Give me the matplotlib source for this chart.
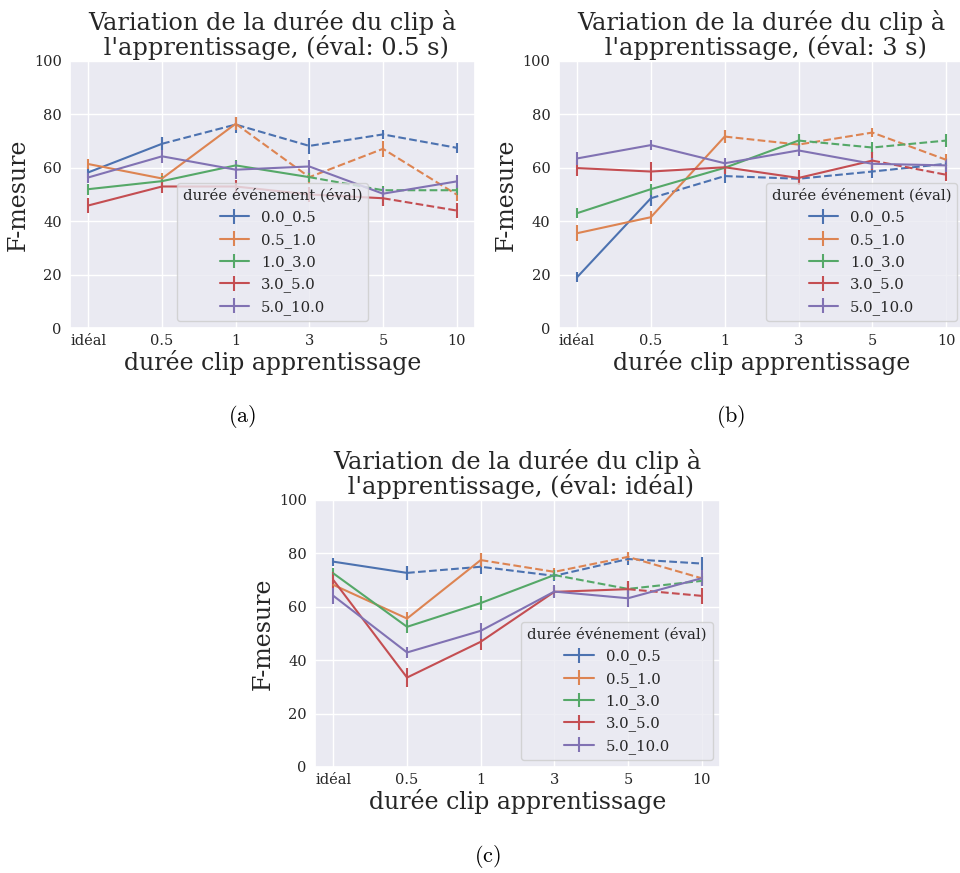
import matplotlib
matplotlib.use("Agg")
import matplotlib.pyplot as plt
import seaborn as sns
import numpy as np

sns.set_theme(style="darkgrid")
plt.rcParams['font.family'] = ['DejaVu Serif']
plt.rcParams['mathtext.fontset'] = 'cm'

clip_labels = ['idéal', '0.5', '1', '3', '5', '10']
event_labels = ['0.0_0.5', '0.5_1.0', '1.0_3.0', '3.0_5.0', '5.0_10.0']
# index of last "solid" point for each event class (clip duration <= event upper bound)
solid_end = [1, 2, 3, 4, 5]

# (a) eval 0.5 s
a_vals = [
    [58.3, 69.0, 76.2, 68.2, 72.5, 67.5],
    [61.4, 56.0, 76.5, 56.5, 67.1, 50.0],
    [52.0, 55.0, 60.9, 56.5, 51.6, 51.6],
    [45.9, 53.0, 53.0, 50.0, 48.6, 44.0],
    [56.4, 64.3, 59.3, 60.5, 50.3, 54.9],
]
a_err = [
    [2.0, 2.4, 3.0, 3.0, 1.7, 1.9],
    [2.0, 2.2, 2.5, 2.5, 3.0, 2.5],
    [2.0, 1.8, 2.0, 2.0, 1.7, 1.8],
    [2.8, 2.5, 2.5, 2.8, 2.8, 2.8],
    [2.0, 2.5, 3.4, 2.6, 2.0, 2.3],
]
# (b) eval 3 s
b_vals = [
    [19.0, 48.6, 56.9, 55.9, 58.6, 61.5],
    [35.5, 41.5, 71.7, 68.7, 73.2, 63.0],
    [43.0, 52.0, 60.0, 70.2, 67.6, 70.2],
    [59.9, 58.6, 60.2, 56.2, 62.7, 57.4],
    [63.5, 68.5, 61.7, 66.5, 61.5, 60.9],
]
b_err = [
    [1.9, 3.0, 2.5, 2.0, 2.5, 2.0],
    [3.0, 2.4, 2.5, 2.0, 1.7, 2.2],
    [1.9, 2.0, 2.0, 2.5, 2.2, 2.4],
    [3.0, 3.4, 2.5, 2.8, 3.4, 2.5],
    [2.3, 2.0, 2.0, 2.2, 2.0, 2.5],
]
# (c) eval ideal
c_vals = [
    [76.9, 72.7, 75.0, 71.6, 77.9, 76.2],
    [68.2, 55.6, 77.5, 73.1, 78.7, 70.7],
    [72.5, 52.5, 61.4, 71.9, 66.7, 69.7],
    [70.0, 33.5, 46.9, 65.6, 66.6, 64.1],
    [64.1, 42.9, 51.0, 65.7, 63.2, 70.7],
]
c_err = [
    [1.5, 2.5, 2.6, 2.0, 2.4, 2.4],
    [2.0, 2.5, 2.7, 1.5, 1.7, 2.0],
    [2.0, 2.4, 2.5, 1.8, 1.8, 2.0],
    [3.0, 3.4, 3.1, 2.0, 3.1, 3.1],
    [3.1, 2.0, 3.1, 2.5, 3.1, 3.0],
]
titles = ["Variation de la durée du clip à\n l'apprentissage, (éval: 0.5 s)",
          "Variation de la durée du clip à\n l'apprentissage, (éval: 3 s)",
          "Variation de la durée du clip à\n l'apprentissage, (éval: idéal)"]
captions = ['(a)', '(b)', '(c)']

colors = sns.color_palette('deep', 5)

W, H = 960, 873
fig = plt.figure(figsize=(W / 100, H / 100), dpi=100)

def rect(l, t, r, b):
    return [l / W, 1 - b / H, (r - l) / W, (b - t) / H]

axes_rects = [rect(70, 61, 475, 328), rect(558.6, 61, 964.6, 328), rect(315, 500, 720, 767)]
legend_locs = ['lower center', 'lower right', 'lower right']
caption_pos = [(242, 416), (731, 416), (487, 856)]
datasets = [(a_vals, a_err), (b_vals, b_err), (c_vals, c_err)]

x = np.arange(len(clip_labels))
for i, (vals, errs) in enumerate(datasets):
    ax = fig.add_axes(axes_rects[i])
    for j in range(len(event_labels)):
        v = np.array(vals[j]); e = np.array(errs[j])
        k = solid_end[j]
        ax.errorbar(x[:k + 1], v[:k + 1], yerr=e[:k + 1], color=colors[j],
                    lw=1.5, elinewidth=1.5, capsize=0, label=event_labels[j])
        if k < len(x) - 1:
            ax.errorbar(x[k:], v[k:], yerr=e[k:], color=colors[j],
                        lw=1.5, elinewidth=1.5, capsize=0, linestyle='--')
    ax.set_ylim(0, 100)
    ax.set_xlim(-0.25, 5.25)
    ax.set_yticks([0, 20, 40, 60, 80, 100])
    ax.set_xticks(x)
    ax.set_xticklabels(clip_labels)
    ax.tick_params(axis='x', labelsize=10.5, length=0, pad=4)
    ax.tick_params(axis='y', labelsize=10.5, length=0, pad=6)
    ax.set_xlabel('durée clip apprentissage', fontsize=17, labelpad=2)
    ax.set_ylabel('F-mesure', fontsize=17, labelpad=3)
    ax.set_title(titles[i], fontsize=17.3, pad=4, linespacing=1.0)
    ax.legend(title='durée événement (éval)', loc=legend_locs[i],
              fontsize=10.7, title_fontsize=10.7)
    cx, cy = caption_pos[i]
    fig.text(cx / W, 1 - cy / H, r'$\mathrm{%s}$' % captions[i], ha='center',
             va='center', fontsize=16, color='black')

fig.savefig('out.png', dpi=100)
